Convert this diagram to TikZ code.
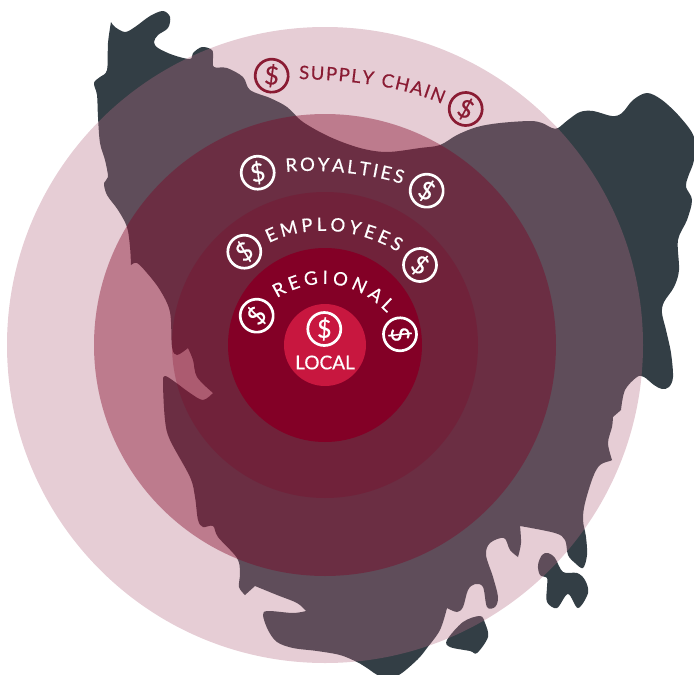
\documentclass[tikz,border=0pt]{standalone}
\usepackage{fontspec}
\setmainfont{Lato}
\usetikzlibrary{decorations.text}
\newfontfamily\heavyfont[FakeBold=0.5]{Lato}

\definecolor{islandcol}{HTML}{333E45}
\definecolor{ringcol}{HTML}{7F0021}
\definecolor{outercol}{HTML}{B56C83}
\definecolor{regionalcol}{HTML}{830026}
\definecolor{localcol}{HTML}{C8173F}
\definecolor{maroontext}{HTML}{8A1B33}

\begin{document}
\begin{tikzpicture}[x=1pt,y=-1pt,
coin/.style={circle,draw,line width=2.7pt,minimum size=33pt,inner sep=0pt,font=\heavyfont\fontsize{25}{25}\selectfont},
arclabel/.style n args={2}{decorate,decoration={text along path,text align={fit to path},
  text={|\heavyfont\fontsize{18.5}{18.5}\selectfont\color{#1}|#2}}},
curve/.style={smooth,tension=0.55}]
\useasboundingbox (0,0) rectangle (694,675);

\fill[islandcol] plot[curve] coordinates {(111,22) (115,27) (125,32) (135,27) (150,16) (163,11) (170,17) (168,28) (158,35) (154,42) (158,48) (173,55) (190,59) (193,53) (202,47) (212,50) (213,58) (214,67) (227,68) (243,77) (250,90) (270,98) (287,107) (303,122) (330,137) (360,148) (387,152) (420,148) (440,145) (457,135) (477,127) (500,123) (530,121) (542,123) (552,128) (558,128) (568,120) (580,112) (593,111) (612,116) (622,113) (633,100) (647,93) (662,100) (680,117) (694,137) (694,160) (688,177) (686,187) (692,200) (687,220) (678,240) (679,270) (674,287) (664,302) (662,313) (666,330) (671,353) (673,377) (669,387) (662,389) (654,385) (644,377) (637,377) (625,390) (621,410)}
 -- plot[curve] coordinates {(613,417) (612,427) (608,443) (612,460)}
 -- plot[curve] coordinates {(610,461) (600,465) (593,477) (585,503) (583,520) (586,537) (587,555) (583,568) (575,563) (568,555) (565,540) (555,533) (520,526)}
 -- plot[curve] coordinates {(520,526) (521,543) (518,557)}
 -- plot[curve] coordinates {(518,557) (510,550) (504,538) (490,543) (486,555) (493,577) (498,597) (495,607) (487,607) (483,587) (475,584) (468,590) (463,607) (457,612) (447,608)}
 -- plot[curve] coordinates {(447,608) (440,630) (427,648) (417,660) (397,676) (380,676) (367,668) (357,662) (340,655) (317,651) (293,648) (277,642) (268,630) (263,615) (268,611) (293,613) (306,611)}
 -- plot[curve] coordinates {(306,611) (297,603) (277,595) (255,586)}
 -- plot[curve] coordinates {(245,595) (239,587) (240,573) (237,558) (218,537) (213,526) (203,527) (198,520) (195,497) (190,477) (170,440) (165,420) (163,383) (165,376) (175,382) (190,393) (203,400) (213,393)}
 -- plot[curve] coordinates {(213,393) (197,377) (193,360) (188,348)}
 -- plot[curve] coordinates {(188,348) (177,355) (172,347) (170,312) (160,290) (147,273) (137,263) (131,265)}
 -- plot[curve] coordinates {(131,265) (130,247) (127,227) (118,210) (107,195) (104,183) (108,177) (105,160) (100,143) (98,117) (97,95) (94,83) (100,77) (107,70) (108,43) (111,22)} -- cycle;

\fill[islandcol] plot[smooth cycle,tension=0.55] coordinates {(538,565) (542,555) (548,553) (555,558) (563,572) (577,573) (585,580) (588,593) (578,608) (568,594) (557,608) (547,602) (547,587) (547,578) (540,575)};
\fill[islandcol] plot[smooth cycle,tension=0.55] coordinates {(447,640) (463,622) (480,616) (485,623) (488,637) (477,653) (470,651) (450,647)};

\fill[outercol,fill opacity=0.34] (325,345) circle (318);
\fill[ringcol,fill opacity=0.4] (325,345) circle (231);
\fill[ringcol,fill opacity=0.26] (325,345) circle (153);
\fill[regionalcol] (325,345) circle (97);
\fill[localcol] (325,345) circle (41);

\path[arclabel={maroontext}{SUPPLY CHAIN}] (299,79) .. controls (345,80) and (400,85) .. (442,104);
\path[arclabel={white}{ROYALTIES}] (286,172) .. controls (315,169) and (365,172) .. (402,184);
\path[arclabel={white}{EMPLOYEES}] (269,243) .. controls (305,225) and (355,226) .. (398,252);
\path[arclabel={white}{REGIONAL}] (277,298) .. controls (315,275) and (355,280) .. (387,313);

\foreach \x/\y/\r/\c [count=\n] in {271.7/75.7/-4/maroontext,465.7/109/-25/maroontext,
257.7/172.7/12/white,426.7/190.7/-28/white,244.3/251.7/35/white,420/265/-35/white,
256.7/315.7/50/white,400/334.3/-80/white,324.3/329/0/white}{
\node[coin,draw=\c,text=\c,rotate=\r] (coin\n) at (\x,\y) {\$};
}

\node[text=white,font=\heavyfont\fontsize{19}{19}\selectfont] (local) at (325,362.5) {LOCAL};
\end{tikzpicture}
\end{document}
